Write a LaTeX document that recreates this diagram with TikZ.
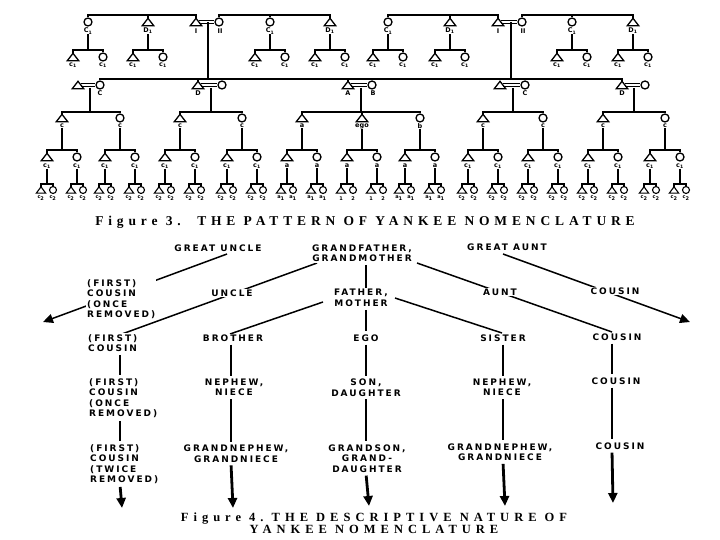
\documentclass[tikz,border=0pt]{standalone}
\usepackage{fontspec}
\setmainfont{Liberation Serif}
\newfontfamily\capfontA[LetterSpace=36]{Liberation Serif}
\newfontfamily\capfontB[LetterSpace=40]{Liberation Serif}
\newfontfamily\tfont[LetterSpace=22]{DejaVu Sans}
\newfontfamily\sfont{DejaVu Sans}
\usetikzlibrary{calc,arrows.meta,backgrounds}
\tikzset{
  symline/.style={line width=1.3pt, line join=miter},
  trib/.style={inner sep=0pt, minimum width=11pt, minimum height=7pt},
  tris/.style={inner sep=0pt, minimum width=9pt, minimum height=6pt},
  circ/.style={circle, draw, line width=1.3pt, minimum size=8pt, inner sep=0pt},
  circs/.style={circle, draw, line width=1.1pt, minimum size=7pt, inner sep=0pt},
  kin/.style={line width=1.1pt},
  desc/.style={line width=2pt},
  descb/.style={line width=2.6pt},
  marr/.style={line width=0.9pt},
  lab/.style={font=\sfont\bfseries\fontsize{6.5}{6.5}\selectfont, inner sep=0pt},
  labs/.style={font=\sfont\bfseries\fontsize{5}{5}\selectfont, inner sep=0pt},
  term/.style={font=\tfont\bfseries\fontsize{9}{10.5}\selectfont, align=center, inner sep=1pt, fill=white},
  terml/.style={term, align=left, anchor=west},
  conn/.style={line width=1.5pt},
  vconn/.style={line width=2.8pt, shorten <=2pt},
  arr/.style={-{Triangle[length=10pt,width=9pt]}},
  caption/.style={font=\capfontA\bfseries\fontsize{13.5}{13.5}\selectfont, inner sep=0pt},
  caption4/.style={font=\capfontB\bfseries\fontsize{12.5}{12.5}\selectfont, inner sep=0pt, align=center},
}
\newcommand\Tr[3]{\node[trib] (#1) at (#2,#3) {};\draw[symline] (#1.south west) -- (#1.south east) -- (#1.north) -- cycle;}
\newcommand\Trs[3]{\node[tris] (#1) at (#2,#3) {};\draw[symline, line width=1.1pt] (#1.south west) -- (#1.south east) -- (#1.north) -- cycle;}
\newcommand\Ci[3]{\node[circ] (#1) at (#2,#3) {};}
\newcommand\Cis[3]{\node[circs] (#1) at (#2,#3) {};}
\newcommand\Sib[3]{\coordinate (barY) at (0,#1);\draw[kin] (#2.north) -- (#2.north |- barY) -- (#3.north |- barY) -- (#3.north);}
\newcommand\Drop[2]{\coordinate (barY) at (0,#1);\draw[kin] (#2.north) -- (#2.north |- barY);}
\newcommand\Marr[5]{% tri, circ, name of midpoint, y from, y to
  \draw[marr] ([xshift=-2.5pt,yshift=1.1pt]#1.east) -- ([yshift=1.1pt]#2.west);
  \draw[marr] ([xshift=-2.5pt,yshift=-1.1pt]#1.east) -- ([yshift=-1.1pt]#2.west);
  \coordinate (#3) at ($(#1.east)!.5!(#2.west)$);
  \coordinate (yA) at (0,#4);\coordinate (yB) at (0,#5);
  \draw[desc] (#3 |- yA) -- (#3 |- yB);}
\begin{document}
\begin{tikzpicture}[x=1pt,y=-1pt]
\begin{pgfonlayer}{background}
\fill[white] (0,0) rectangle (720,540);
\end{pgfonlayer}
\useasboundingbox (0,0) rectangle (720,540);

% ---------------- Figure 3 ----------------
% level 1
\Ci{a1}{88}{22} \Tr{a2}{148}{22} \Tr{a3}{196}{22} \Ci{a4}{219}{22} \Ci{a5}{270}{22} \Tr{a6}{330}{22}
\Sib{15}{a1}{a3} \Drop{15}{a2} \Sib{15}{a4}{a6} \Drop{15}{a5}
\Ci{b1}{388}{22} \Tr{b2}{450}{22} \Tr{b3}{498}{22} \Ci{b4}{522}{22} \Ci{b5}{572}{22} \Tr{b6}{633}{22}
\Sib{15}{b1}{b3} \Drop{15}{b2} \Sib{15}{b4}{b6} \Drop{15}{b5}
\node[lab] (la1) at (88,31) {C\textsubscript{1}};
\node[lab] (la2) at (148,31) {D\textsubscript{1}};
\node[lab] (la3) at (196,31) {I};
\node[lab] (la4) at (220,31) {II};
\node[lab] (la5) at (270,31) {C\textsubscript{1}};
\node[lab] (la6) at (330,31) {D\textsubscript{1}};
\node[lab] (lb1) at (388,31) {C\textsubscript{1}};
\node[lab] (lb2) at (450,31) {D\textsubscript{1}};
\node[lab] (lb3) at (498,31) {I};
\node[lab] (lb4) at (523,31) {II};
\node[lab] (lb5) at (572,31) {C\textsubscript{1}};
\node[lab] (lb6) at (633,31) {D\textsubscript{1}};
\Marr{a3}{a4}{ma}{22}{79}
\Marr{b3}{b4}{mb}{22}{79}
% level 1b
\foreach \p/\x in {a1/88,a2/148,a5/270,a6/330,b1/388,b2/450,b5/572,b6/633}{
  \coordinate (barY) at (0,50);
  \draw[desc] (l\p.south) -- (l\p.south |- barY);
  \Tr{\p-t}{\x-15}{57} \Ci{\p-c}{\x+15}{57}
  \Sib{50}{\p-t}{\p-c}
  \node[lab] (l\p-t) at (\x-15,65.5) {c\textsubscript{1}};
  \node[lab] (l\p-c) at (\x+15,65.5) {c\textsubscript{1}};
}
% level 2
\Tr{c1-t}{78}{85} \Ci{c1-c}{100}{85}
\Tr{c2-t}{198}{85} \Ci{c2-c}{222}{85}
\Tr{c3-t}{348}{85} \Ci{c3-c}{372}{85}
\Tr{c4-t}{500}{85} \Ci{c4-c}{525}{85}
\Tr{c5-t}{622}{85} \Ci{c5-c}{645}{85}
\Sib{79}{c1-c}{c5-t} \Drop{79}{c2-t} \Drop{79}{c3-t} \Drop{79}{c3-c} \Drop{79}{c4-c}
\node[lab] (lc1) at (100,93) {C};
\node[lab] (lc2) at (198,93) {D};
\node[lab] (lc3a) at (348,93) {A};
\node[lab] (lc3b) at (373,93) {B};
\node[lab] (lc4) at (525,93) {C};
\node[lab] (lc5) at (622,93) {D};
\foreach \n in {1,...,5}{\Marr{c\n-t}{c\n-c}{mc\n}{88}{112}}
% level 3
\Tr{d1}{62}{118} \Ci{d2}{120}{118} \Sib{112}{d1}{d2}
\Tr{d3}{180}{118} \Ci{d4}{242}{118} \Sib{112}{d3}{d4}
\Tr{d5}{302}{118} \Tr{d6}{362}{118} \Ci{d7}{420}{118} \Sib{112}{d5}{d7} \Drop{112}{d6}
\Tr{d8}{483}{118} \Ci{d9}{543}{118} \Sib{112}{d8}{d9}
\Tr{d10}{603}{118} \Ci{d11}{665}{118} \Sib{112}{d10}{d11}
\foreach \n/\x/\l in {1/62/c,2/120/c,3/180/c,4/242/c,5/302/a,6/362/ego,7/420/b,8/483/c,9/543/c,10/603/c,11/665/c}{
  \node[lab] (ld\n) at (\x,126) {\l};
}
% levels 4 and 5
\foreach \n/\x/\la/\lt/\lc in {
  1/62/{c\textsubscript{1}}/{c\textsubscript{2}}/{c\textsubscript{2}},
  2/120/{c\textsubscript{1}}/{c\textsubscript{2}}/{c\textsubscript{2}},
  3/180/{c\textsubscript{1}}/{c\textsubscript{2}}/{c\textsubscript{2}},
  4/242/{c\textsubscript{1}}/{c\textsubscript{2}}/{c\textsubscript{2}},
  5/302/{a}/{a\textsubscript{1}}/{a\textsubscript{1}},
  6/362/{a}/{1}/{2},
  7/420/{a}/{a\textsubscript{1}}/{a\textsubscript{1}},
  8/483/{c\textsubscript{1}}/{c\textsubscript{2}}/{c\textsubscript{2}},
  9/543/{c\textsubscript{1}}/{c\textsubscript{2}}/{c\textsubscript{2}},
  10/603/{c\textsubscript{1}}/{c\textsubscript{2}}/{c\textsubscript{2}},
  11/665/{c\textsubscript{1}}/{c\textsubscript{2}}/{c\textsubscript{2}}}{
  \coordinate (barY) at (0,150);
  \draw[desc] (ld\n.south) -- (ld\n.south |- barY);
  \Tr{e\n-t}{\x-15}{157} \Ci{e\n-c}{\x+15}{157}
  \Sib{150}{e\n-t}{e\n-c}
  \node[lab] (le\n-t) at (\x-15,166) {\la};
  \node[lab] (le\n-c) at (\x+15,166) {\la};
  \foreach \s/\xx in {t/\x-15,c/\x+15}{
    \coordinate (barY) at (0,184);
    \draw[descb] (le\n-\s.south) -- (le\n-\s.south |- barY);
    \Trs{f\n-\s-t}{\xx-6}{190} \Cis{f\n-\s-c}{\xx+6}{190}
    \Sib{184}{f\n-\s-t}{f\n-\s-c}
    \node[labs] (g\n-\s-t) at (\xx-6,198.5) {\lt};
    \node[labs] (g\n-\s-c) at (\xx+6,198.5) {\lc};
  }
}
\node[caption] (cap3) at (365,222) {Figure 3.\ \ THE PATTERN OF YANKEE NOMENCLATURE};

% ---------------- Figure 4 ----------------
\node[term] (gu) at (218,248) {GREAT UNCLE};
\node[term] (gp) at (362,253) {GRANDFATHER,\\GRANDMOTHER};
\node[term] (ga) at (507,247) {GREAT AUNT};
\node[terml] (c1r) at (86,299) {(FIRST)\\COUSIN\\(ONCE\\REMOVED)};
\node[term] (un) at (232,293) {UNCLE};
\node[term] (fm) at (361,298) {FATHER,\\MOTHER};
\node[term] (au) at (500,292) {AUNT};
\node[term] (cR) at (615,291) {COUSIN};
\node[terml] (fc) at (87,343) {(FIRST)\\COUSIN};
\node[term] (br) at (233,338) {BROTHER};
\node[term] (eg) at (366,338) {EGO};
\node[term] (si) at (503,338) {SISTER};
\node[term] (co1) at (617,337) {COUSIN};
\node[terml] (c1o) at (88,398) {(FIRST)\\COUSIN\\(ONCE\\REMOVED)};
\node[term] (ne1) at (234,387.5) {NEPHEW,\\NIECE};
\node[term] (sd) at (366,387.5) {SON,\\DAUGHTER};
\node[term] (ne2) at (502,387.5) {NEPHEW,\\NIECE};
\node[term] (co2) at (616,381) {COUSIN};
\node[terml] (c2r) at (89,464) {(FIRST)\\COUSIN\\(TWICE\\REMOVED)};
\node[term] (gn1) at (236,453.5) {GRANDNEPHEW,\\GRANDNIECE};
\node[term] (gs) at (367,458.5) {GRANDSON,\\GRAND-\\DAUGHTER};
\node[term] (gn2) at (500,452) {GRANDNEPHEW,\\GRANDNIECE};
\node[term] (co3) at (620,446) {COUSIN};
\node[caption4] (cap4) at (374,523) {Figure 4.\ THE DESCRIPTIVE NATURE OF\\YANKEE NOMENCLATURE};

% connector end points
\coordinate (s1) at (227,254); \coordinate (L) at (43,322);
\coordinate (s2) at (503,254); \coordinate (R) at (690,322);
\coordinate (s3) at (317,263); \coordinate (e3) at (122,334);
\coordinate (s4) at (417,263); \coordinate (e4) at (612,332);
\coordinate (s5) at (323,302); \coordinate (e5) at (230,334);
\coordinate (s6) at (395,298); \coordinate (e6) at (502,333);
\coordinate (kA) at (120,0); \coordinate (kB) at (231,0); \coordinate (kC) at (366,0);
\coordinate (kD) at (503,0); \coordinate (kE) at (612,0);
\coordinate (endA) at (122,508); \coordinate (endB) at (233,508); \coordinate (endC) at (369,506);
\coordinate (endD) at (505,506); \coordinate (endE) at (613,503);

\begin{pgfonlayer}{background}
\draw[conn, arr] (s1) -- (L);
\draw[conn, arr] (s2) -- (R);
\draw[conn] (s3) -- (e3);
\draw[conn] (s4) -- (e4);
\draw[conn] (s5) -- (e5);
\draw[conn] (s6) -- (e6);
% verticals
\draw[vconn, shorten >=2pt] (fc.south -| kA) -- (c1o.north -| kA);
\draw[vconn, shorten >=2pt] (c1o.south -| kA) -- (c2r.north -| kA);
\draw[vconn, arr] (c2r.south -| kA) -- (endA);
\draw[vconn, shorten >=2pt] (br.south -| kB) -- (ne1.north -| kB);
\draw[vconn, shorten >=2pt] (ne1.south -| kB) -- (gn1.north -| kB);
\draw[vconn, arr] (gn1.south -| kB) -- (endB);
\draw[vconn] (gp.south -| kC) -- (fm.north -| kC);
\draw[vconn, shorten >=2pt] (fm.south -| kC) -- (eg.north -| kC);
\draw[vconn, shorten >=2pt] (eg.south -| kC) -- (sd.north -| kC);
\draw[vconn, shorten >=2pt] (sd.south -| kC) -- (gs.north -| kC);
\draw[vconn, arr] (gs.south -| kC) -- (endC);
\draw[vconn, shorten >=2pt] (si.south -| kD) -- (ne2.north -| kD);
\draw[vconn, shorten >=2pt] (ne2.south -| kD) -- (gn2.north -| kD);
\draw[vconn, arr] (gn2.south -| kD) -- (endD);
\draw[vconn, shorten >=2pt] (co1.south -| kE) -- (co2.north -| kE);
\draw[vconn, shorten >=2pt] (co2.south -| kE) -- (co3.north -| kE);
\draw[vconn, arr] (co3.south -| kE) -- (endE);
\end{pgfonlayer}
\end{tikzpicture}
\end{document}
